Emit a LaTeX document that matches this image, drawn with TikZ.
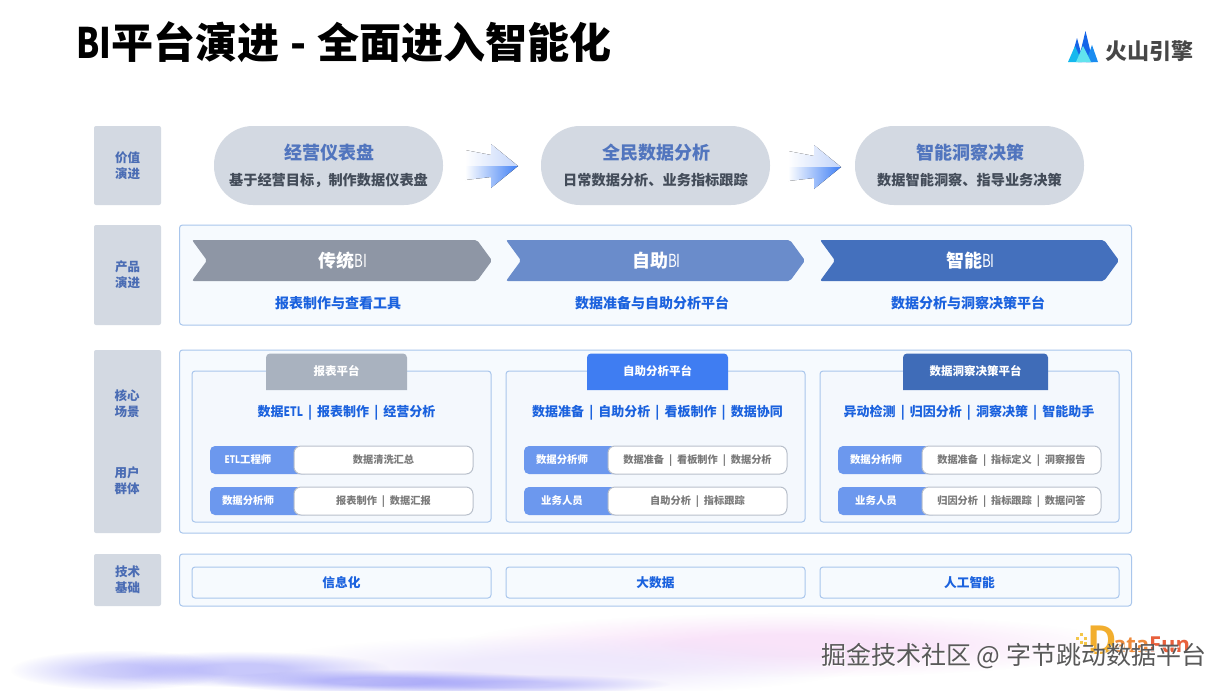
\documentclass[tikz,border=0pt]{standalone}
\usepackage{fontspec}
\setmainfont{Noto Sans CJK SC}
\newfontfamily\logolat{Open Sans}
\usetikzlibrary{fadings}
\pgfdeclareradialshading{flatblobshade}{\pgfpointorigin}{color(0bp)=(pgftransparent!0); color(8bp)=(pgftransparent!0); color(25bp)=(pgftransparent!100); color(50bp)=(pgftransparent!100)}
\pgfdeclarefading{flatblob}{\pgfuseshading{flatblobshade}}
\definecolor{labelbg}{HTML}{D3D9E2}
\definecolor{labeltxt}{HTML}{4A6CB4}
\definecolor{pilltxt}{HTML}{5175BE}
\definecolor{pillsub}{HTML}{434C59}
\definecolor{panelln}{HTML}{A9C6EC}
\definecolor{panelbg}{HTML}{F6FAFE}
\definecolor{subbg}{HTML}{F4F8FD}
\definecolor{bluetxt}{HTML}{1B62DE}
\definecolor{roleblue}{HTML}{6C98EE}
\definecolor{rowln}{HTML}{B9C0CB}
\definecolor{graytxt}{HTML}{7A7A7A}
\definecolor{tabA}{HTML}{A9B2BF}
\definecolor{tabB}{HTML}{3F7DF2}
\definecolor{tabC}{HTML}{3F6CB8}
\definecolor{chevA}{HTML}{8E96A5}
\definecolor{chevB}{HTML}{6A8CCB}
\definecolor{chevC}{HTML}{4470BD}
\definecolor{HeadA}{HTML}{C2D4FA}
\definecolor{HeadAm}{HTML}{E3EBFC}
\definecolor{HeadB}{HTML}{3F7FF5}
\definecolor{HeadBm}{HTML}{B6CCF9}
\definecolor{blobblue}{HTML}{9C9CF8}
\definecolor{blobpink}{HTML}{F8DCF8}
\definecolor{blobvio}{HTML}{ECE6FC}
\definecolor{mtA}{HTML}{1565E8}
\definecolor{mtB}{HTML}{1A8CF0}
\definecolor{mtC}{HTML}{15B8EE}
\definecolor{mtD}{HTML}{62E3EE}
\definecolor{dfdot}{HTML}{F3C64A}
\definecolor{dfD}{HTML}{F2AE2E}
\definecolor{dfA}{HTML}{EE8A3A}
\definecolor{dfF}{HTML}{E8603C}
\tikzset{
  x=1pt,y=-1pt,
  base/.style={inner sep=0pt,outer sep=0pt},
  lab/.style={base,fill=labelbg,rounded corners=2pt,text=labeltxt,align=center,font=\fontsize{12.5}{16}\selectfont\bfseries},
  labt/.style={base,text=labeltxt,align=center,font=\fontsize{12.5}{16}\selectfont\bfseries},
  pill/.style={base,fill=labelbg,rounded corners=39pt},
  panel/.style={base,draw=panelln,line width=1pt,fill=panelbg,rounded corners=3pt},
  subbox/.style={base,draw=panelln,line width=1pt,fill=subbg,rounded corners=3pt},
  pilltitle/.style={base,text=pilltxt,text height=15.8pt,text depth=2.2pt,font=\fontsize{18}{20}\selectfont\bfseries},
  pillsubt/.style={base,text=pillsub,text height=12.5pt,text depth=1.7pt,font=\fontsize{14.2}{16}\selectfont\bfseries},
  chevt/.style={base,text=white,text height=15.8pt,text depth=2.2pt,font=\fontsize{18}{20}\selectfont\bfseries},
  subt/.style={base,text=bluetxt,text height=12.3pt,text depth=1.7pt,font=\fontsize{14}{16}\selectfont\bfseries},
  bluet/.style={base,text=bluetxt,text height=11.4pt,text depth=1.6pt,font=\fontsize{13}{16}\selectfont\bfseries},
  tabt/.style={base,text=white,text height=10.1pt,text depth=1.4pt,font=\fontsize{11.5}{13}\selectfont\bfseries},
  roleb/.style={base,fill=roleblue,rounded corners=5pt},
  rolew/.style={base,fill=white,draw=rowln,line width=1pt,rounded corners=7pt,text=graytxt,text height=9pt,text depth=1.2pt,font=\fontsize{10.2}{12}\selectfont\bfseries},
  rolet/.style={base,text=white,text height=9.2pt,text depth=1.3pt,font=\fontsize{10.4}{12}\selectfont\bfseries},
  tech/.style={base,draw=panelln,line width=1pt,fill=panelbg,rounded corners=3pt,text=bluetxt,text height=11.2pt,text depth=1.5pt,font=\fontsize{12.7}{15}\selectfont\bfseries},
  blob/.style={path fading=flatblob},
}
\newcommand\sepb{\hspace{.48em}|\hspace{.48em}}
\newcommand\sepk{\hspace{.39em}|\hspace{.39em}}
\newcommand\nl[1]{\scalebox{.74}[1]{\mdseries #1}}
\newcommand\nle[1]{\scalebox{.8}[1]{#1}}
\newcommand\bx[7]{%
  \pgfmathsetmacro\cxx{(#3+#5)/2}\pgfmathsetmacro\cyy{(#4+#6)/2}%
  \pgfmathsetmacro\www{#5-#3}\pgfmathsetmacro\hhh{#6-#4}%
  \node[#1,minimum width=\www pt,minimum height=\hhh pt] (#2) at (\cxx,\cyy) {#7};}
\newcommand\chev[5]{%
  \fill[#1,rounded corners=2pt] (#3,240) -- (#4-15,240) -- (#4,260.5) -- (#4-15,281) -- (#3,281) -- (#3+15,260.5) -- cycle;
  \node[chevt] (#2) at ({(#3+#4)/2+1},260.5) {#5};}
\newcommand\tabb[5]{%
  \fill[#1] (#3,390) {[rounded corners=4pt] -- (#3,353.5) -- (#4,353.5)} -- (#4,390) -- cycle;
  \node[tabt] (#2) at ({(#3+#4)/2},371) {#5};}
\newcommand\garrow[2]{%
  \fill[left color=white,middle color=HeadAm,right color=HeadA] (#1,#2-16) -- (#1+26,#2-11) -- (#1+26,#2-22) -- (#1+53,#2) -- (#1,#2) -- cycle;
  \fill[left color=white,middle color=HeadBm,right color=HeadB] (#1,#2) -- (#1+53,#2) -- (#1+26,#2+22) -- (#1+26,#2+11) -- (#1,#2+14) -- cycle;}
\begin{document}
\begin{tikzpicture}
\useasboundingbox (0,0) rectangle (1227,691);
\fill[white] (0,0) rectangle (1227,691);
% background blobs
\fill[blobpink,opacity=.8,blob] (790,645) ellipse (330 and 32);
\fill[blobvio,opacity=.8,blob] (560,665) ellipse (300 and 30);
\fill[blobblue,opacity=.45,blob] (120,670) ellipse (110 and 20);
\fill[blobblue,opacity=.55,blob] (240,669) ellipse (150 and 18);
\fill[blobblue,opacity=.7,blob] (380,681) ellipse (170 and 12);
\fill[blobblue,opacity=.5,blob] (510,684) ellipse (160 and 10);
% title
\node[base,anchor=west,font=\fontsize{42}{48}\selectfont\bfseries] (title) at (76,42) {\scalebox{.8}[1]{BI}平台演进\hspace{11pt}-\hspace{11pt}全面进入智能化};
% logo
\fill[mtA] (1071,60) -- (1077,38) -- (1083,60) -- cycle;
\fill[mtA] (1078,62) -- (1085.5,31) -- (1093,62) -- cycle;
\fill[mtB] (1086,62) -- (1092,45) -- (1098,62) -- cycle;
\fill[mtC] (1068,62) -- (1075,46) -- (1082,62) -- cycle;
\fill[mtD] (1076,62) -- (1083,46) -- (1091,62) -- cycle;
\node[base,anchor=west,text=black!72,font=\fontsize{22}{24}\selectfont\bfseries] (logo) at (1105,51) {火山引擎};
% left labels
\bx{lab}{l1}{94}{126}{161}{205}{价值\\演进}
\bx{lab}{l2}{94}{225}{161}{325}{产品\\演进}
\bx{lab}{l3}{94}{350}{161}{533}{}
\bx{lab}{l4}{94}{554}{161}{606}{技术\\基础}
\node[labt] (l3a) at (127,404) {核心\\场景};
\node[labt] (l3b) at (127,481) {用户\\群体};
% pills
\bx{pill}{p1}{214}{126}{443}{205}{}
\bx{pill}{p2}{541}{126}{770}{205}{}
\bx{pill}{p3}{855}{126}{1084}{205}{}
\node[pilltitle] (p1t) at (329,153) {经营仪表盘};
\node[pillsubt] (p1s) at (328.5,180) {基于经营目标，制作数据仪表盘};
\node[pilltitle] (p2t) at (656,153) {全民数据分析};
\node[pillsubt] (p2s) at (655.5,180) {日常数据分析、业务指标跟踪};
\node[pilltitle] (p3t) at (970,153) {智能洞察决策};
\node[pillsubt] (p3s) at (969.5,180) {数据智能洞察、指导业务决策};
\garrow{465}{166}
\garrow{788}{167}
% panels
\bx{panel}{pn1}{179.5}{225}{1131.5}{325}{}
\bx{panel}{pn2}{179.5}{350}{1131.5}{533}{}
\bx{panel}{pn3}{179.5}{554}{1131.5}{606}{}
% chevrons
\chev{chevA}{c1}{192}{492}{传统\nl{BI}}
\chev{chevB}{c2}{506}{805}{自助\nl{BI}}
\chev{chevC}{c3}{820}{1119}{智能\nl{BI}}
\node[subt] (c1s) at (338,303) {报表制作与查看工具};
\node[subt] (c2s) at (652,303) {数据准备与自助分析平台};
\node[subt] (c3s) at (968,303) {数据分析与洞察决策平台};
% sub boxes
\bx{subbox}{s1}{192}{371}{491}{522}{}
\bx{subbox}{s2}{506}{371}{805}{522}{}
\bx{subbox}{s3}{820}{371}{1119}{522}{}
\tabb{tabA}{t1}{266}{407}{报表平台}
\tabb{tabB}{t2}{587}{728}{自助分析平台}
\tabb{tabC}{t3}{903}{1048}{数据洞察决策平台}
\node[bluet] (k1) at (346.5,412) {数据\nle{ETL}\sepk 报表制作\sepk 经营分析};
\node[bluet] (k2) at (657.5,412) {数据准备\sepk 自助分析\sepk 看板制作\sepk 数据协同};
\node[bluet] (k3) at (969,412) {异动检测\sepk 归因分析\sepk 洞察决策\sepk 智能助手};
% role rows
\bx{roleb}{r11}{210}{446}{310}{474}{}
\bx{roleb}{r12}{210}{487}{310}{515}{}
\bx{roleb}{r21}{524}{446}{624}{474}{}
\bx{roleb}{r22}{524}{487}{624}{515}{}
\bx{roleb}{r31}{838}{446}{938}{474}{}
\bx{roleb}{r32}{838}{487}{938}{515}{}
\bx{rolew}{w11}{294}{446}{473}{474}{数据清洗汇总}
\bx{rolew}{w12}{294}{487}{473}{515}{报表制作\sepb 数据汇报}
\bx{rolew}{w21}{608}{446}{787}{474}{数据准备\sepb 看板制作\sepb 数据分析}
\bx{rolew}{w22}{608}{487}{787}{515}{自助分析\sepb 指标跟踪}
\bx{rolew}{w31}{922}{446}{1101}{474}{数据准备\sepb 指标定义\sepb 洞察报告}
\bx{rolew}{w32}{922}{487}{1101}{515}{归因分析\sepb 指标跟踪\sepb 数据问答}
\node[rolet] (n11) at (248,460) {\nle{ETL}工程师};
\node[rolet] (n12) at (248,501) {数据分析师};
\node[rolet] (n21) at (562,460) {数据分析师};
\node[rolet] (n22) at (562,501) {业务人员};
\node[rolet] (n31) at (876,460) {数据分析师};
\node[rolet] (n32) at (876,501) {业务人员};
% tech boxes
\bx{tech}{b1}{192}{567}{491}{598}{信息化}
\bx{tech}{b2}{506}{567}{805}{598}{大数据}
\bx{tech}{b3}{820}{567}{1119}{598}{人工智能}
% DataFun logo
\foreach \dx/\dy in {1076/637,1080/633,1084/637,1080/641,1084/642}
  \fill[dfdot] (\dx,\dy) rectangle +(2.6,2.6);
\node[base,anchor=base west,text=dfD,font=\logolat\fontsize{40}{40}\selectfont\bfseries] (dfd) at (1087,654) {D};
\node[base,anchor=base west,text=dfA,font=\logolat\fontsize{22}{26}\selectfont\bfseries] (dfa) at (1113,652) {ata};
\node[base,anchor=base west,text=dfF,font=\logolat\fontsize{22}{26}\selectfont\bfseries] (dff) at (dfa.base east) {Fun};
% watermark
\node[base,anchor=east,text=white,font=\fontsize{25}{28}\selectfont] (wm2) at (1207.4,656.8) {掘金技术社区 @ 字节跳动数据平台};
\node[base,anchor=east,text=black!65,font=\fontsize{25}{28}\selectfont] (wm) at (1206.2,656) {掘金技术社区 @ 字节跳动数据平台};
\end{tikzpicture}
\end{document}
